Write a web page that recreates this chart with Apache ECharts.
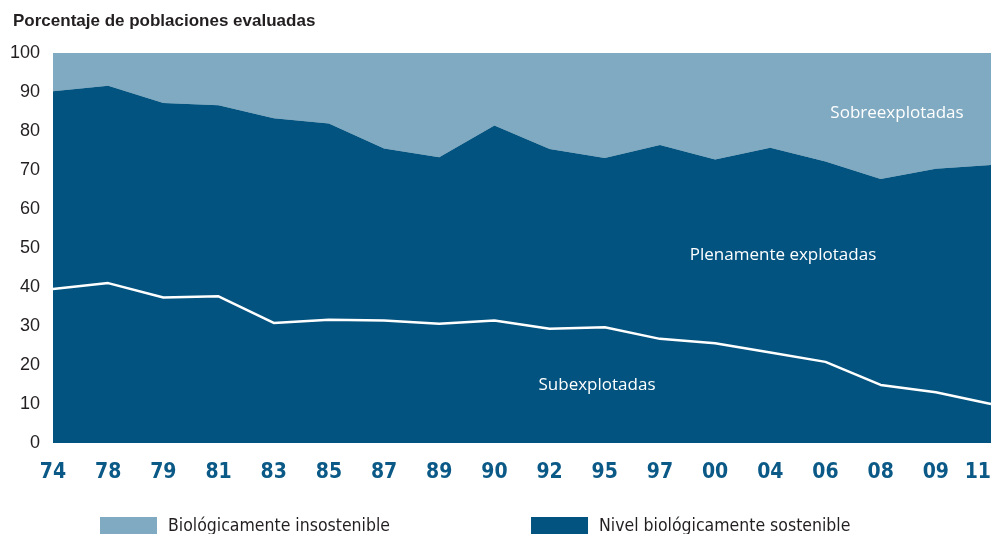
<!DOCTYPE html>
<html>
<head>
<meta charset="utf-8">
<script src="https://cdn.jsdelivr.net/npm/echarts@6/dist/echarts.min.js"></script>
<style>
html,body{margin:0;padding:0;background:#fff;}
#c{width:1000px;height:534px;}
</style>
</head>
<body>
<div id="c"></div>
<script>
const categories = ['74','78','79','81','83','85','87','89','90','92','95','97','00','04','06','08','09','11'];
// Subexplotadas (lower band)
const subexplotadas = [39.5,41.0,37.3,37.6,30.8,31.6,31.4,30.6,31.4,29.3,29.7,26.7,25.6,23.2,20.8,14.9,13.0,10.0];
// Plenamente explotadas (middle band)
const plenamente = [50.7,50.6,49.9,49.0,52.5,50.3,44.1,42.7,50.0,46.1,43.4,49.7,47.1,52.5,51.4,52.8,57.3,61.3];
// Sobreexplotadas (top band)
const sobreexplotadas = [9.8,8.4,12.8,13.4,16.7,18.1,24.5,26.7,18.6,24.6,26.9,23.6,27.3,24.3,27.8,32.3,29.7,28.7];
const yTicks = [0,10,20,30,40,50,60,70,80,90,100];

const DARK = '#02537f';
const LIGHT = '#80aac1';
const COND = '"DejaVu Sans Condensed", "Liberation Sans Narrow", "Liberation Sans", sans-serif';

const chart = echarts.init(document.getElementById('c'), null, {renderer:'canvas'});
chart.setOption({
  animation:false,
  backgroundColor:'#ffffff',
  title:{
    text:'Porcentaje de poblaciones evaluadas',
    left:8, top:8,
    textStyle:{fontFamily:'Liberation Sans', fontWeight:'bold', fontSize:17, color:'#231f20'}
  },
  grid:{left:53, right:9, top:53, bottom:91, outerBoundsMode:'none', containLabel:false},
  legend:{
    left:95, top:512, itemWidth:57, itemHeight:18, itemGap:141,
    icon:'rect',
    data:['Biológicamente insostenible','Nivel biológicamente sostenible'],
    textStyle:{fontFamily:COND, fontSize:17.5, color:'#231f20', padding:[0,0,0,6]},
    selectedMode:false
  },
  xAxis:{
    type:'category', data:categories, boundaryGap:false,
    axisLine:{show:false}, axisTick:{show:false},
    axisLabel:{margin:19, fontFamily:COND, fontWeight:'bold', fontSize:21, color:'#0b5986',
      alignMaxLabel:'right'},
    splitLine:{show:false}
  },
  yAxis:{
    type:'value', min:0, max:100, interval:10,
    axisLine:{show:false}, axisTick:{show:false}, splitLine:{show:false},
    axisLabel:{margin:13, fontFamily:'Liberation Sans', fontSize:18, color:'#231f20',
      formatter:v=>yTicks.indexOf(v)>=0?String(v):''}
  },
  series:[
    {name:'Subexplotadas', type:'line', stack:'t', data:subexplotadas, symbol:'none', z:5,
      lineStyle:{color:'#ffffff', width:2.5}, areaStyle:{color:DARK, opacity:1}, itemStyle:{color:DARK}},
    {name:'Nivel biológicamente sostenible', type:'line', stack:'t', data:plenamente, symbol:'none', z:3,
      lineStyle:{width:0}, areaStyle:{color:DARK, opacity:1}, itemStyle:{color:DARK}},
    {name:'Biológicamente insostenible', type:'line', stack:'t', data:sobreexplotadas, symbol:'none', z:2,
      lineStyle:{width:0}, areaStyle:{color:LIGHT, opacity:1}, itemStyle:{color:LIGHT}}
  ],
  graphic:[
    {type:'text', x:897, y:113, z:100, style:{text:'Sobreexplotadas', fill:'#ffffff', fontFamily:'Open Sans', fontSize:17, align:'center', verticalAlign:'middle'}},
    {type:'text', x:783, y:255, z:100, style:{text:'Plenamente explotadas', fill:'#ffffff', fontFamily:'Open Sans', fontSize:17, align:'center', verticalAlign:'middle'}},
    {type:'text', x:597, y:385, z:100, style:{text:'Subexplotadas', fill:'#ffffff', fontFamily:'Open Sans', fontSize:17, align:'center', verticalAlign:'middle'}}
  ]
});
</script>
</body>
</html>
